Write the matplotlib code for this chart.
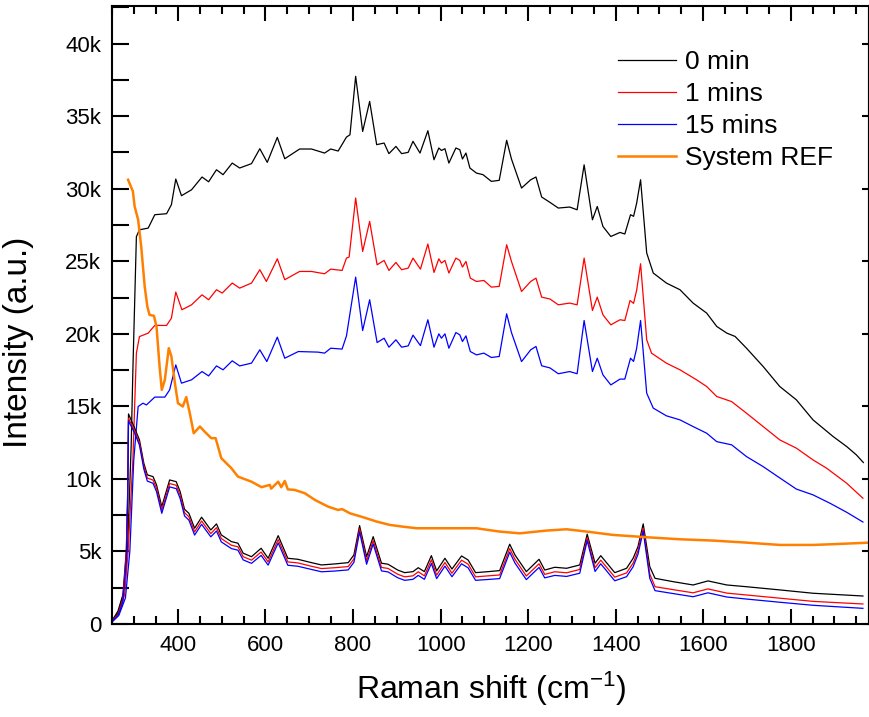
import matplotlib
matplotlib.use('Agg')
import matplotlib.pyplot as plt
from matplotlib.ticker import MultipleLocator, FuncFormatter, NullLocator

plt.rcParams['font.family'] = ['Liberation Sans', 'DejaVu Sans']
plt.rcParams['mathtext.fontset'] = 'custom'
plt.rcParams['mathtext.rm'] = 'Liberation Sans'
plt.rcParams['mathtext.it'] = 'Liberation Sans'

# upper spectra (raw, with background)
x_0min = [250, 263, 275, 285, 293, 297, 305, 312, 332, 347, 374, 385, 395, 408, 431, 455, 470, 488, 503, 524,
          541, 568, 587, 604, 627, 644, 678, 705, 735, 749, 766, 785, 793, 806, 822, 838, 854, 871, 882, 898,
          911, 926, 937, 953, 971, 985, 996, 1002, 1010, 1019, 1035, 1044, 1050, 1058, 1067, 1082, 1097, 1116,
          1134, 1151, 1162, 1185, 1206, 1218, 1231, 1250, 1269, 1295, 1312, 1328, 1347, 1358, 1371, 1389, 1410,
          1421, 1434, 1441, 1448, 1457, 1471, 1486, 1516, 1547, 1577, 1608, 1631, 1654, 1673, 1699, 1737, 1775,
          1813, 1851, 1897, 1928, 1950, 1966]
y_0min = [250, 900, 2100, 5300, 12200, 17500, 26700, 27170, 27290, 28210, 28280, 28900, 30670, 29520, 29930,
          30810, 30480, 31310, 30970, 31770, 31430, 31730, 32760, 31820, 33540, 32070, 32740, 32740, 32460, 32740,
          32600, 33560, 33720, 37750, 33950, 36020, 33040, 33150, 32420, 32920, 32420, 32510, 33270, 32460, 34000,
          32000, 32810, 32640, 32760, 31770, 32810, 32690, 32050, 32460, 31430, 31080, 30970, 30510, 30580, 33340,
          32050, 30050, 30620, 30810, 29430, 29060, 28670, 28740, 28550, 31650, 27860, 28780, 27400, 26710, 26990,
          26880, 28210, 28100, 29000, 30620, 25570, 24190, 23500, 23040, 22120, 21430, 20510, 20050, 19820, 19010,
          17750, 16370, 15450, 14070, 12920, 12230, 11660, 11130]

x_1min = [250, 265, 278, 286, 297, 305, 312, 332, 347, 374, 385, 395, 409, 431, 455, 470, 488, 501, 524, 541,
          568, 587, 602, 627, 644, 678, 705, 735, 749, 775, 785, 791, 806, 822, 838, 855, 871, 882, 898, 911,
          926, 937, 954, 971, 985, 996, 1002, 1010, 1019, 1035, 1044, 1050, 1058, 1068, 1082, 1099, 1116, 1134,
          1151, 1162, 1185, 1206, 1218, 1231, 1250, 1269, 1295, 1312, 1328, 1347, 1358, 1371, 1389, 1410, 1421,
          1433, 1441, 1448, 1457, 1471, 1482, 1516, 1547, 1585, 1608, 1631, 1665, 1699, 1737, 1775, 1813, 1851,
          1882, 1928, 1965]
y_1min = [200, 800, 2000, 5000, 11310, 18670, 19810, 20050, 20580, 20580, 21080, 22880, 21660, 22000, 22690,
          22350, 23040, 22810, 23500, 23150, 23500, 24420, 23610, 25170, 23730, 24300, 24300, 24140, 24460, 24370,
          25220, 25290, 29360, 25680, 27750, 24760, 25060, 24370, 24920, 24420, 24530, 25220, 24460, 26190, 24230,
          25170, 24880, 25060, 24190, 25220, 25060, 24600, 24990, 23840, 23610, 23680, 23220, 23270, 26140, 24990,
          22920, 23610, 23840, 22530, 22400, 22000, 22120, 22000, 25220, 21610, 22530, 21310, 20620, 20970, 20920,
          22300, 22100, 23000, 24830, 19590, 18670, 17980, 17520, 16830, 16370, 15680, 15330, 14530, 13610, 12690,
          12120, 11310, 10740, 9700, 8670]

x_15min = [250, 265, 280, 290, 299, 309, 320, 328, 347, 370, 381, 395, 408, 431, 455, 470, 488, 503, 524, 541,
           568, 587, 603, 627, 644, 675, 720, 735, 749, 775, 785, 806, 822, 838, 855, 871, 882, 898, 911, 926,
           937, 954, 971, 985, 996, 1002, 1010, 1019, 1035, 1044, 1050, 1058, 1068, 1082, 1099, 1116, 1134, 1151,
           1162, 1185, 1206, 1218, 1231, 1250, 1269, 1295, 1312, 1328, 1347, 1358, 1371, 1389, 1410, 1421, 1434,
           1441, 1448, 1457, 1471, 1486, 1516, 1547, 1577, 1608, 1631, 1665, 1699, 1737, 1775, 1813, 1851, 1890,
           1928, 1965]
y_15min = [150, 600, 1800, 5000, 11310, 14990, 15220, 15100, 15640, 15640, 16140, 17860, 16600, 16830, 17400,
           17100, 17790, 17520, 18140, 17790, 17980, 18900, 18090, 19770, 18320, 18780, 18740, 18670, 19010, 18950,
           19860, 23910, 20230, 22350, 19400, 19700, 19080, 19590, 19080, 19170, 19910, 19190, 20970, 19080, 20000,
           19700, 20000, 19010, 20090, 19930, 19470, 19860, 18780, 18550, 18670, 18370, 18440, 21380, 20090, 18090,
           18900, 19130, 17800, 17650, 17250, 17400, 17250, 20920, 17400, 18320, 17170, 16480, 16880, 16880, 18320,
           18100, 19000, 20920, 15910, 14880, 14350, 14070, 13610, 13150, 12570, 12350, 11540, 10850, 10070, 9300,
           8900, 8320, 7700, 7030]

# lower spectra (background removed)
x_low = [250, 263, 274, 282, 285, 287, 301, 312, 322, 330, 343, 351, 363, 381, 396, 405, 415, 425, 438, 454,
         475, 488, 499, 522, 537, 549, 568, 590, 606, 629, 651, 674, 705, 728, 758, 789, 802, 815, 831, 846,
         865, 880, 902, 918, 937, 949, 963, 979, 991, 1010, 1026, 1048, 1063, 1080, 1109, 1135, 1158, 1170,
         1196, 1225, 1238, 1261, 1288, 1318, 1335, 1353, 1366, 1398, 1425, 1440, 1451, 1463, 1478, 1490, 1531,
         1577, 1611, 1654, 1699, 1775, 1851, 1965]
y_0min_low = [280, 740, 1880, 5100, 9000, 14480, 13500, 12690, 11080, 10280, 10160, 9590, 8090, 9930, 9810,
              9120, 7910, 7630, 6600, 7360, 6480, 6900, 6140, 5680, 5570, 4880, 4640, 5220, 4530, 6090, 4530,
              4460, 4230, 4070, 4140, 4230, 4760, 6780, 4640, 6020, 4190, 4120, 3720, 3540, 3610, 3880, 3610,
              4710, 3660, 4530, 3790, 4690, 4410, 3540, 3610, 3680, 5500, 4760, 3610, 4460, 3720, 3910, 3840,
              4070, 6190, 4190, 4710, 3540, 3840, 4530, 5330, 6900, 3950, 3150, 2920, 2690, 2970, 2690, 2570,
              2350, 2120, 1930]
y_1min_low = [240, 640, 1700, 4800, 8600, 14190, 13300, 12500, 10880, 10060, 9920, 9350, 7850, 9680, 9560,
              8880, 7670, 7390, 6350, 7100, 6230, 6640, 5890, 5430, 5320, 4640, 4400, 4960, 4280, 5820, 4280,
              4210, 3980, 3820, 3880, 3960, 4480, 6560, 4360, 5750, 3900, 3830, 3430, 3250, 3320, 3600, 3320,
              4420, 3370, 4240, 3500, 4400, 4120, 3250, 3320, 3380, 5200, 4460, 3310, 4150, 3420, 3600, 3530,
              3760, 5950, 3880, 4400, 3230, 3520, 4200, 5050, 6600, 3450, 2570, 2370, 2150, 2420, 2130, 2000,
              1780, 1560, 1380]
y_15min_low = [220, 560, 1500, 4400, 8200, 14000, 13150, 12330, 10680, 9850, 9700, 9120, 7630, 9450, 9330,
               8650, 7450, 7160, 6130, 6870, 6010, 6410, 5660, 5200, 5090, 4420, 4180, 4730, 4060, 5590, 4050,
               3980, 3760, 3600, 3650, 3730, 4250, 6350, 4120, 5520, 3660, 3590, 3190, 3010, 3080, 3350, 3080,
               4170, 3130, 3990, 3260, 4150, 3870, 3010, 3070, 3130, 4950, 4200, 3060, 3900, 3180, 3350, 3280,
               3500, 5750, 3620, 4150, 2980, 3260, 3950, 4800, 6400, 3150, 2300, 2100, 1880, 2150, 1860, 1720,
               1500, 1290, 1080]

# system reference
x_ref = [286, 297, 301, 309, 316, 324, 330, 335, 345, 351, 358, 363, 370, 379, 385, 393, 400, 411, 419, 427,
         436, 450, 461, 476, 486, 499, 522, 537, 568, 591, 610, 613, 629, 636, 644, 651, 667, 690, 713, 743,
         766, 775, 793, 823, 854, 884, 914, 945, 990, 1036, 1082, 1135, 1181, 1242, 1288, 1334, 1394, 1471,
         1547, 1623, 1699, 1775, 1851, 1896, 1980]
y_ref = [30620, 29820, 28780, 27860, 26020, 23260, 21880, 21310, 21240, 20500, 17750, 16140, 16830, 19010, 18440,
         16600, 15220, 14990, 15640, 14530, 13150, 13610, 13260, 12810, 12810, 11430, 10740, 10160, 9810, 9430,
         9590, 9330, 9810, 9430, 9860, 9280, 9240, 9010, 8550, 8090, 7860, 7920, 7630, 7360, 7060, 6830, 6710,
         6600, 6600, 6600, 6600, 6370, 6250, 6440, 6530, 6370, 6140, 5980, 5840, 5750, 5610, 5450, 5450, 5500,
         5610]

fig = plt.figure(figsize=(8.7, 7.17), dpi=100)
ax = fig.add_axes([0.1291, 0.1297, 0.8703, 0.862])

ax.plot(x_0min, y_0min, color='black', lw=0.9, label='0 min')
ax.plot(x_1min, y_1min, color='#ff0000', lw=0.9, label='1 mins')
ax.plot(x_15min, y_15min, color='#0000ff', lw=0.9, label='15 mins')
ax.plot(x_low, y_0min_low, color='black', lw=0.9)
ax.plot(x_low, y_1min_low, color='#ff0000', lw=0.9)
ax.plot(x_low, y_15min_low, color='#0000ff', lw=0.9)
ax.plot(x_ref, y_ref, color='#ff8000', lw=1.8, label='System REF')

ax.set_xlim(250, 1980)
ax.set_ylim(0, 42600)

ax.set_xticks([400, 600, 800, 1000, 1200, 1400, 1600, 1800])
ax.xaxis.set_minor_locator(MultipleLocator(50))
ax.yaxis.set_major_locator(MultipleLocator(5000))
ax.yaxis.set_minor_locator(MultipleLocator(2500))
ax.yaxis.set_major_formatter(FuncFormatter(lambda v, p: '0' if v == 0 else '%dk' % (v / 1000)))

ax.tick_params(axis='x', which='major', direction='in', length=11, width=1.5, top=True, labelsize=16, pad=8)
ax.tick_params(axis='x', which='minor', direction='in', length=6, width=1.5, top=True)
ax.tick_params(axis='y', which='both', direction='in', length=12, width=1.5, right=False, labelsize=16, pad=8)

# right side: short major ticks only
sec = ax.secondary_yaxis('right')
sec.set_yticks(range(0, 45000, 5000))
sec.yaxis.set_minor_locator(NullLocator())
sec.tick_params(direction='in', length=5, width=1.5, labelright=False)
sec.spines['right'].set_linewidth(1.5)

for s in ax.spines.values():
    s.set_linewidth(1.5)

ax.set_xlabel(r'Raman shift (cm$^{\mathregular{-1}}$)', fontsize=23, labelpad=10)
ax.set_ylabel('Intensity (a.u.)', fontsize=24)
ax.yaxis.set_label_coords(-0.103, 0.456)

ax.legend(loc='upper left', bbox_to_anchor=(0.668, 0.928), frameon=False, fontsize=19,
          handlelength=2.2, handletextpad=0.35, labelspacing=0.3, borderpad=0, borderaxespad=0)

fig.savefig('out.png', dpi=100)
